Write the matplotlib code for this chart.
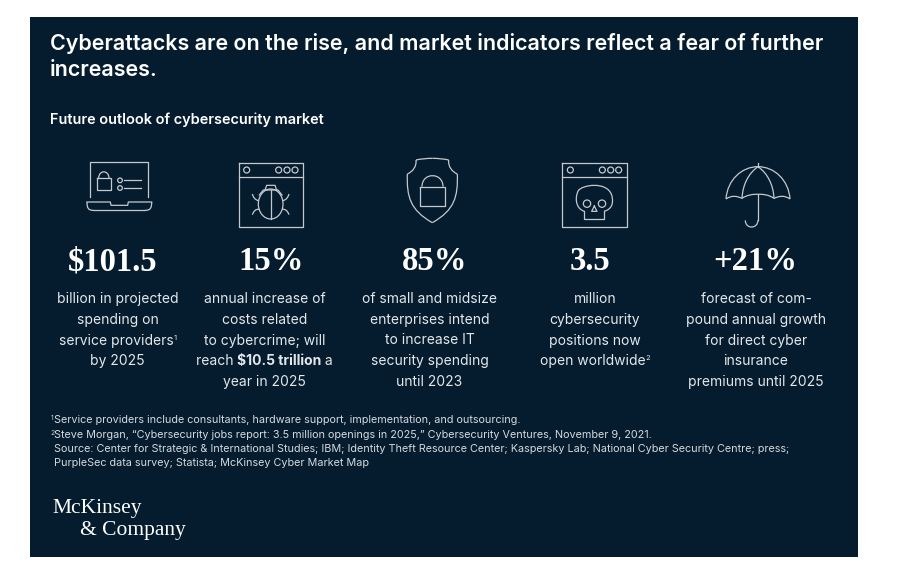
import matplotlib
matplotlib.use('Agg')
import matplotlib.pyplot as plt
from matplotlib.patches import Rectangle, Circle, Ellipse, PathPatch
from matplotlib.path import Path

BG = '#041c2e'
ICON = '#c4c9ce'
BODY = '#e4e7ea'
SANS = ['Inter', 'DejaVu Sans']
SERIF = ['Liberation Serif', 'DejaVu Serif']

# big number, x centre of number, x centre of text, lines below it
# a line is a string, or a list of (text, weight, kind) parts for mixed lines
stats = [
    ('$101.5', 113, 117.5, ['billion in projected', 'spending on',
                            [('service providers', 'normal', 'body'), ('1', 'normal', 'sup')], 'by 2025']),
    ('15%', 271, 264.5, ['annual increase of', 'costs related', 'to cybercrime; will',
                         [('reach ', 'normal', 'body'), ('$10.5 trillion', 'bold', 'body'), (' a', 'normal', 'body')],
                         'year in 2025']),
    ('85%', 435, 429.5, ['of small and midsize', 'enterprises intend', 'to increase IT', 'security spending', 'until 2023']),
    ('3.5', 590, 595, ['million', 'cybersecurity', 'positions now',
                       [('open worldwide', 'normal', 'body'), ('2', 'normal', 'sup')]]),
    ('+21%', 755, 756, ['forecast of com-', 'pound annual growth', 'for direct cyber', 'insurance', 'premiums until 2025']),
]
line_y = [299, 320, 340.5, 361, 382]

notes = [
    ('1', 420, 'Service providers include consultants, hardware support, implementation, and outsourcing.'),
    ('2', 434.5, 'Steve Morgan, “Cybersecurity jobs report: 3.5 million openings in 2025,” Cybersecurity Ventures, November 9, 2021.'),
    ('', 449, 'Source: Center for Strategic & International Studies; IBM; Identity Theft Resource Center; Kaspersky Lab; National Cyber Security Centre; press;'),
    ('', 463.5, 'PurpleSec data survey; Statista; McKinsey Cyber Market Map'),
]

fig = plt.figure(figsize=(9, 5.8), dpi=100, facecolor='white')
ax = fig.add_axes([0, 0, 1, 1])
ax.set_xlim(0, 900)
ax.set_ylim(580, 0)
ax.axis('off')
ax.add_patch(Rectangle((30, 17), 828, 540, color=BG, lw=0))


def txt(x, y, s, size=10, color='white', weight='normal', ha='left', family=SANS):
    return ax.text(x, y, s, fontsize=size, color=color, fontweight=weight, ha=ha, va='center',
                   family=family, parse_math=False)


def poly(x0, pts, closed=False):
    xy = [(x0 + x / 3, 140 + y / 3) for x, y in pts]
    ax.plot(*zip(*(xy + xy[:1] if closed else xy)), color=ICON, lw=0.9, solid_joinstyle='round')


def rect(x0, x1, y1, x2, y2):
    poly(x0, [(x1, y1), (x2, y1), (x2, y2), (x1, y2)], closed=True)


def circ(x0, x, y, r):
    ax.add_patch(Circle((x0 + x / 3, 140 + y / 3), r / 3, fill=False, ec=ICON, lw=0.9))


def curve(x0, start, *segs):
    # segs are (ctrl1, ctrl2, end) cubic segments
    verts = [start]
    codes = [Path.MOVETO]
    for c1, c2, e in segs:
        verts += [c1, c2, e]
        codes += [Path.CURVE4] * 3
    verts = [(x0 + x / 3, 140 + y / 3) for x, y in verts]
    ax.add_patch(PathPatch(Path(verts, codes), fill=False, ec=ICON, lw=0.9))


def lock(x0, x1, x2, y1, y2, top):
    rect(x0, x1, y1, x2, y2)
    m = (x1 + x2) / 2
    r = (x2 - x1) / 2 - 6
    curve(x0, (m - r, y1), ((m - r, top - 4), (m + r, top - 4), (m + r, y1)))


def window(x0, x1, x2):
    rect(x0, x1, 68, x2, 262)
    poly(x0, [(x1, 110), (x2, 110)])
    circ(x0, x1 + 24, 90, 9)
    for d in (120, 145, 169):
        circ(x0, x1 + d, 90, 9)


# laptop
poly(30, [(181, 170), (181, 65), (355, 65), (355, 170)])
curve(30, (171, 186), ((171, 205), (175, 211), (190, 211)))
poly(30, [(190, 211), (346, 211)])
curve(30, (346, 211), ((361, 211), (365, 205), (365, 186)))
poly(30, [(171, 186), (241, 186), (243, 196), (293, 196), (295, 186), (365, 186)])
lock(30, 200, 243, 115, 150, 93)
for y in (121, 144):
    circ(30, 270, y, 7)
    poly(30, [(281, y), (333, y)])

# bug window
window(30, 626, 820)
ax.add_patch(Ellipse((30 + 722 / 3, 140 + 192 / 3), 74 / 3, 90 / 3, fill=False, ec=ICON, lw=0.9))
poly(30, [(722, 150), (722, 237)])
poly(30, [(688, 165), (700, 150), (744, 150), (756, 165)])
poly(30, [(705, 150), (710, 136), (735, 136), (740, 150)])
curve(30, (686, 182), ((675, 180), (670, 172), (667, 162)))
curve(30, (758, 182), ((769, 180), (774, 172), (777, 162)))
curve(30, (688, 208), ((677, 206), (671, 214), (667, 224)))
curve(30, (756, 208), ((767, 206), (773, 214), (777, 224)))

# shield
S = 30
curve(S, (1207, 55), ((1190, 55), (1170, 57), (1158, 60)))
curve(S, (1158, 60), ((1160, 80), (1148, 95), (1132, 102)))
curve(S, (1132, 102), ((1130, 170), (1140, 210), (1207, 248)))
curve(S, (1207, 55), ((1224, 55), (1244, 57), (1256, 60)))
curve(S, (1256, 60), ((1254, 80), (1266, 95), (1282, 102)))
curve(S, (1282, 102), ((1284, 170), (1274, 210), (1207, 248)))
lock(S, 1170, 1245, 140, 199, 100)

# skull window
X = 450
window(X, 337, 530)
curve(X, (403, 214), ((375, 205), (375, 170), (385, 152)), ((395, 135), (470, 122), (485, 165)),
      ((492, 190), (485, 208), (462, 214)))
poly(X, [(403, 214), (403, 238), (462, 238), (462, 214)])
circ(X, 411, 191, 11)
circ(X, 456, 191, 11)
poly(X, [(433, 198), (425, 214), (441, 214)], closed=True)

# umbrella
curve(X, (828, 177), ((832, 120), (875, 80), (924, 80)), ((973, 80), (1016, 120), (1020, 177)))
curve(X, (828, 177), ((845, 165), (860, 168), (876, 175)), ((890, 165), (910, 162), (924, 163)))
curve(X, (924, 163), ((940, 162), (958, 165), (972, 175)), ((988, 168), (1003, 165), (1020, 177)))
curve(X, (876, 175), ((878, 135), (895, 100), (924, 80)))
curve(X, (972, 175), ((970, 135), (953, 100), (924, 80)))
poly(X, [(924, 68), (924, 80)])
poly(X, [(924, 163), (924, 240)])
curve(X, (924, 240), ((924, 268), (886, 268), (886, 241)))

# header text
txt(50, 43.5, 'Cyberattacks are on the rise, and market indicators reflect a fear of further', 15.45, weight='semibold')
txt(50, 70.5, 'increases.', 15.45, weight='semibold')
txt(50, 120, 'Future outlook of cybersecurity market', 10.45, weight='semibold')

# stats columns
renderer = fig.canvas.get_renderer()
for value, xn, xt, lines in stats:
    txt(xn, 262, value, 23.5, weight='bold', ha='center', family=SERIF)
    for y, line in zip(line_y, lines):
        if isinstance(line, str):
            txt(xt, y, line, 10, color=BODY, ha='center')
            continue
        # mixed line, laid out from measured widths
        items = []
        for s, w, kind in line:
            if kind == 'sup':
                items.append(txt(0, y - 3, s, 5.5, color=BODY, weight=w))
            else:
                items.append(txt(0, y, s.replace(' ', '\u00a0'), 10, color=BODY, weight=w))
        widths = [t.get_window_extent(renderer).width for t in items]
        x = xt - sum(widths) / 2
        for t, w in zip(items, widths):
            t.set_x(x)
            x += w

# footnotes
for mark, y, s in notes:
    if mark:
        txt(50.5, y - 1.5, mark, 4.8, color='#d5d9dd')
    txt(54, y, s, 7.8, color='#d5d9dd')

# logo
txt(52, 509, 'McKinsey', 15.5, family=SERIF)
txt(80, 530, '& Company', 15.5, family=SERIF)

fig.savefig('out.png', dpi=100, facecolor='white')
